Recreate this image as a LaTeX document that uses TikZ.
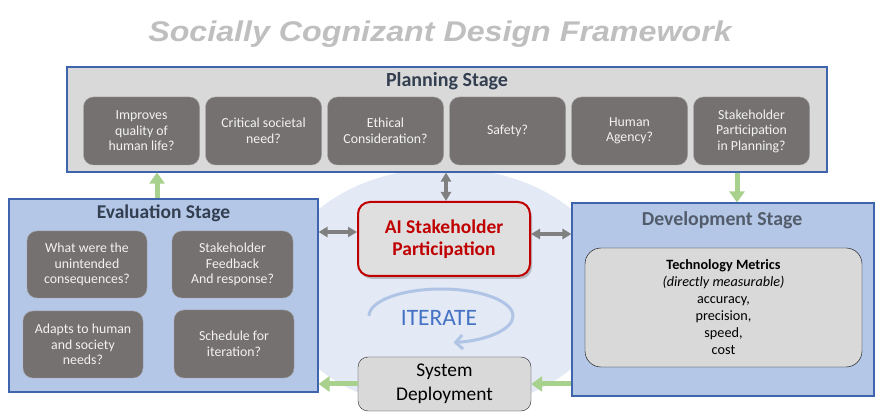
\documentclass[tikz,border=0pt]{standalone}
\usepackage{fontspec}
\setmainfont{Carlito}
\newfontfamily\headfont{Liberation Sans}
\usetikzlibrary{shapes.geometric, arrows.meta, positioning, calc, shadows}

\definecolor{boxgray}{HTML}{767171}
\definecolor{planfill}{HTML}{D9D9D9}
\definecolor{stageblue}{HTML}{B4C7E7}
\definecolor{edgeblue}{HTML}{3E64AD}
\definecolor{navy}{HTML}{333F50}
\definecolor{aired}{HTML}{C00000}
\definecolor{arrowgreen}{HTML}{A9D18E}
\definecolor{arrowgray}{HTML}{808080}
\definecolor{iterblue}{HTML}{4472C4}
\definecolor{arcblue}{HTML}{B0C5E6}
\definecolor{bgblue}{HTML}{E3E9F5}
\definecolor{titlegray}{HTML}{BFBFBF}

\begin{document}
\begin{tikzpicture}[x=1pt, y=-1pt,
    stagebox/.style={draw=edgeblue, line width=1.1pt, inner sep=0pt},
    stagetitle/.style={text=navy, font=\fontsize{19.5}{22}\selectfont\bfseries},
    qbox/.style={draw=boxgray!70!white, fill=boxgray, rounded corners=10pt, text=white!95!black,
        align=center, font=\fontsize{13.8}{15.5}\selectfont, minimum width=116pt, minimum height=68pt, inner sep=2pt},
    greenarrow/.style={draw=arrowgreen, line width=5pt, -{Triangle[length=11pt, width=15pt]}},
    grayarrow/.style={draw=arrowgray, line width=3.5pt, {Triangle[length=9pt, width=10pt]}-{Triangle[length=9pt, width=10pt]}}]
        \useasboundingbox (0,0) rectangle (886,419);

        % Background ellipse
        \node[ellipse, fill=bgblue, minimum width=336pt, minimum height=242pt, inner sep=0pt] (bg) at (445,289) {};

        % Title
        \node[text=titlegray, font=\headfont\fontsize{28.5}{32}\selectfont\bfseries\itshape] (title) at (440,34)
            {\scalebox{1.13}[1]{Socially Cognizant Design Framework}};

        % Planning stage
        \node[stagebox, fill=planfill, minimum width=760pt, minimum height=105pt] (P) at (447,119.5) {};
        \node[stagetitle, font=\fontsize{20}{22}\selectfont\bfseries] (Ptitle) at (447,81) {Planning Stage};
        \node[qbox] (P1) at (141.5,131) {Improves\\quality of\\human life?};
        \node[qbox] (P2) at (263.5,131) {Critical societal\\need?};
        \node[qbox] (P3) at (385.5,131) {Ethical\\Consideration?};
        \node[qbox] (P4) at (507.5,131) {Safety?};
        \node[qbox] (P5) at (629.5,131) {Human\\Agency?};
        \node[qbox] (P6) at (751.5,131) {Stakeholder\\Participation\\in Planning?};

        % Evaluation stage
        \node[stagebox, fill=stageblue, minimum width=309pt, minimum height=193pt] (E) at (163.5,295.5) {};
        \node[stagetitle] (Etitle) at (163.5,213) {Evaluation Stage};
        \node[qbox, minimum width=120pt, minimum height=67pt] (E1) at (87,264.5) {What were the\\unintended\\consequences?};
        \node[qbox, minimum width=121pt, minimum height=67pt] (E2) at (232.5,264.5) {Stakeholder\\Feedback\\And response?};
        \node[qbox, minimum width=120pt, minimum height=67pt] (E3) at (83,344.5) {Adapts to human\\and society\\needs?};
        \node[qbox, minimum width=120pt, minimum height=68pt] (E4) at (234,344) {Schedule for\\iteration?};

        % Development stage
        \node[stagebox, fill=stageblue, minimum width=302pt, minimum height=193pt] (D) at (723,299.5) {};
        \node[stagetitle, text=navy!85!white, font=\fontsize{19.8}{22}\selectfont\bfseries] (Dtitle) at (722,220) {Development Stage};
        \node[draw=black, fill=planfill, rounded corners=16pt, minimum width=277pt, minimum height=119pt,
            align=center, font=\fontsize{14.2}{17}\selectfont] (M) at (723.5,307.5)
            {\textbf{Technology Metrics}\\\textit{(directly measurable)}\\accuracy,\\precision,\\speed,\\cost};

        % AI stakeholder box
        \node[draw=aired, line width=2pt, fill=planfill!85!white, rounded corners=12pt, minimum width=172pt, minimum height=74pt,
            align=center, text=aired, font=\fontsize{19.5}{22}\selectfont\bfseries,
            drop shadow={shadow xshift=2pt, shadow yshift=-3pt, opacity=0.45}] (AI) at (444,239) {AI Stakeholder\\Participation};

        % Iterate loop
        \node[text=iterblue, font=\fontsize{23.5}{26}\selectfont] (iter) at (439,318) {ITERATE};
        \draw[arcblue, line width=3pt, -{Straight Barb[length=7pt, width=14pt]}] (369,316) arc[start angle=180, end angle=-80, x radius=72pt, y radius=27pt];

        % System deployment
        \node[draw=black!85, fill=planfill, rounded corners=10pt, minimum width=173pt, minimum height=54pt,
            align=center, font=\fontsize{19.4}{24}\selectfont] (S) at (444.5,384) {System\\Deployment};

        % Flow between stages
        \draw[greenarrow] ([xshift=-6.5pt]E.north) -- ([xshift=-6.5pt]E.north |- P.south);
        \draw[greenarrow] ([xshift=14pt]D.north |- P.south) -- ([xshift=14pt]D.north);
        \draw[greenarrow] (D.west |- S.east) -- (S.east);
        \draw[greenarrow] (S.west) -- (S.west -| E.east);

        % Links to the AI stakeholder
        \draw[grayarrow] ([xshift=2pt]AI.north |- P.south) -- ([xshift=2pt]AI.north);
        \draw[grayarrow] ([yshift=7pt]AI.west -| E.east) -- ([yshift=7pt]AI.west);
        \draw[grayarrow] ([yshift=5pt]AI.east) -- ([yshift=5pt]AI.east -| D.west);
\end{tikzpicture}
\end{document}
